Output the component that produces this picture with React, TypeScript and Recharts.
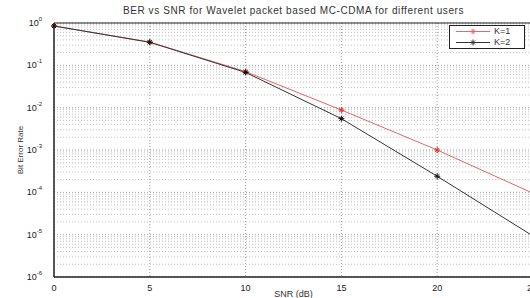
import { LineChart, Line, XAxis, YAxis, CartesianGrid, ReferenceLine, ReferenceArea } from "recharts";

const snr = [0, 5, 10, 15, 20, 25];
const berK1 = [0.85, 0.355, 0.071, 0.0088, 0.001, 9.5e-5];
const berK2 = [0.85, 0.35, 0.068, 0.0055, 0.00024, 9.3e-6];
const xTicks = [0, 5, 10, 15, 20, 25];
const yTicks = [1e-6, 1e-5, 1e-4, 1e-3, 1e-2, 1e-1, 1];
const yExp = ["-6", "-5", "-4", "-3", "-2", "-1", "0"];
const minorMult = [2, 3, 4, 5, 6, 7, 8, 9];

const data = snr.map((s, i) => ({ snr: s, k1: berK1[i], k2: berK2[i] }));
const minorLines = yTicks.slice(0, -1).flatMap((d) => minorMult.map((m) => d * m));

const font = "'Liberation Sans', Arial, sans-serif";

const Star = ({ cx, cy, stroke }: any) => {
  if (cx == null || cy == null) return null;
  const r = 3;
  return (
    <g stroke={stroke} strokeWidth={1}>
      <line x1={cx - r} y1={cy} x2={cx + r} y2={cy} />
      <line x1={cx} y1={cy - r} x2={cx} y2={cy + r} />
      <line x1={cx - 2} y1={cy - 2} x2={cx + 2} y2={cy + 2} />
      <line x1={cx - 2} y1={cy + 2} x2={cx + 2} y2={cy - 2} />
    </g>
  );
};

const YTick = ({ x, y, payload }: any) => {
  const i = yTicks.indexOf(payload.value);
  return (
    <text x={x - 4} y={y + 3} textAnchor="end" fontSize={9} fill="#222" fontFamily={font}>
      10<tspan dy={-5} fontSize={6}>{yExp[i]}</tspan>
    </text>
  );
};

const XTick = ({ x, y, payload }: any) => (
  <text x={x} y={y + 6} textAnchor="middle" fontSize={9} fill="#222" fontFamily={font}>
    {payload.value}
  </text>
);

const LegendBox = () => (
  <div
    style={{
      position: "absolute", top: 25, left: 449,
      width: 74, height: 22, border: "1px solid #222", background: "#fff",
      fontFamily: font, fontSize: 9, color: "#333", lineHeight: "11px"
    }}
  >
    {[{ c: "#e06868", t: "K=1" }, { c: "#333", t: "K=2" }].map((e) => (
      <div key={e.t} style={{ display: "flex", alignItems: "center", height: 11 }}>
        <svg width={44} height={11}>
          <line x1={6} y1={5.5} x2={40} y2={5.5} stroke={e.c} />
          <Star cx={23} cy={5.5} stroke={e.c} />
        </svg>
        <span>{e.t}</span>
      </div>
    ))}
  </div>
);

export default function App() {
  return (
    <div style={{ position: "absolute", left: 0, top: 0, width: 530, height: 298, overflow: "hidden", background: "#fff" }}>
      <div style={{ position: "absolute", top: 5, left: 54, width: 479, textAlign: "center", fontFamily: font, fontSize: 10, color: "#333", letterSpacing: 0.6 }}>
        BER vs SNR for Wavelet packet based MC-CDMA for different users
      </div>
      <LineChart width={540} height={298} data={data} margin={{ top: 23, right: 7, left: 0, bottom: 0 }}>
        <CartesianGrid stroke="#777" strokeDasharray="1 2" strokeWidth={0.7} />
        {minorLines.map((v) => (
          <ReferenceLine key={v} y={v} stroke="#999" strokeDasharray="1 2" strokeWidth={0.6} />
        ))}
        <ReferenceArea x1={0} x2={25} y1={1e-6} y2={1} fill="none" stroke="#222" strokeWidth={1} />
        <XAxis
          dataKey="snr" type="number" domain={[0, 25]} ticks={xTicks} height={21}
          tick={<XTick />} tickLine={false}
          axisLine={{ stroke: "#222" }}
          label={{ value: "SNR (dB)", position: "insideBottom", offset: 1, style: { fontSize: 9, fill: "#333", fontFamily: font } }}
        />
        <YAxis
          scale="log" domain={[1e-6, 1]} ticks={yTicks} width={54} allowDataOverflow
          tick={<YTick />} tickLine={false} axisLine={{ stroke: "#222" }}
          label={{ value: "Bit Error Rate", angle: -90, position: "insideLeft", offset: 20, style: { fontSize: 8, fill: "#333", fontFamily: font, textAnchor: "middle" } }}
        />
        <Line dataKey="k1" stroke="#e06868" strokeWidth={1} dot={<Star stroke="#e03030" />} isAnimationActive={false} />
        <Line dataKey="k2" stroke="#333" strokeWidth={1} dot={<Star stroke="#111" />} isAnimationActive={false} />
      </LineChart>
      <LegendBox />
    </div>
  );
}
